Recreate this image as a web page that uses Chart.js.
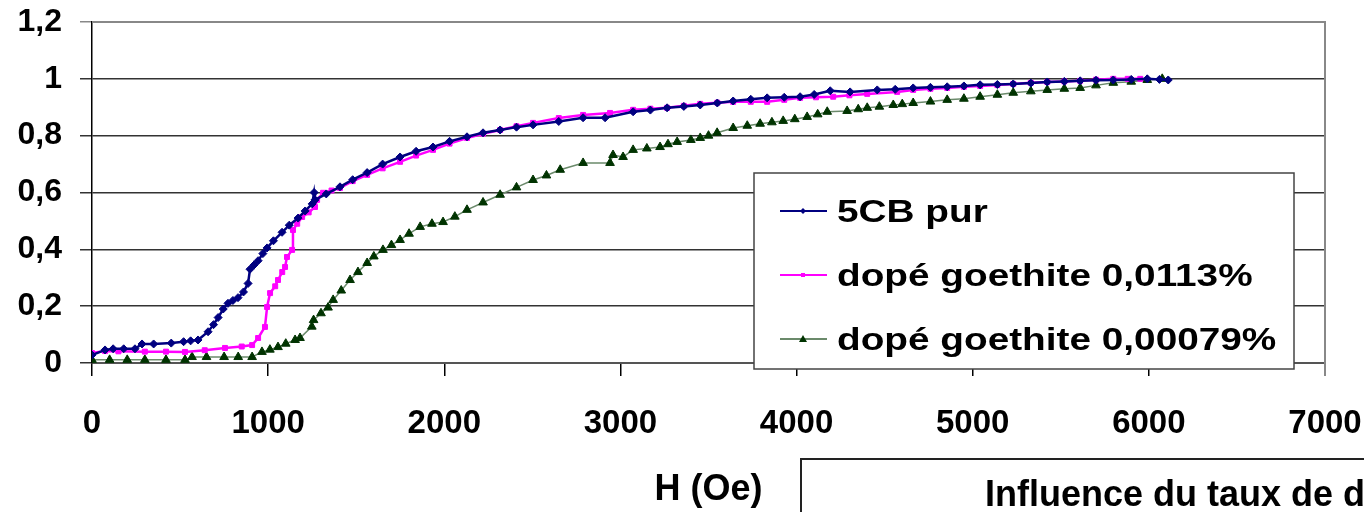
<!DOCTYPE html>
<html>
<head>
<meta charset="utf-8">
<script src="https://cdn.jsdelivr.net/npm/chart.js@4.4.1/dist/chart.umd.min.js"></script>
<style>
  html, body { margin: 0; padding: 0; background: #fff; }
  #wrap { width: 1364px; height: 512px; }
</style>
</head>
<body>
<div id="wrap"><canvas id="myChart" width="1364" height="512"></canvas></div>
<script>
// valeurs : H (Oe) et signal normalisé
let purH = [0, 74, 120, 180, 244, 284, 350, 450, 520, 560, 602, 659, 690, 716, 745, 772, 800, 829, 860, 886, 897, 920, 943, 970, 994, 1030, 1079, 1120, 1170, 1210, 1250, 1261, 1266, 1330, 1408, 1480, 1562, 1650, 1749, 1840, 1936, 2030, 2129, 2220, 2317, 2410, 2504, 2650, 2788, 2913, 3072, 3170, 3265, 3360, 3453, 3550, 3640, 3740, 3833, 3930, 4020, 4100, 4191, 4304, 4458, 4560, 4662, 4760, 4855, 4950, 5042, 5140, 5230, 5330, 5423, 5520, 5610, 5700, 5798, 5900, 5991, 6060, 6110];
let purY = [0.028, 0.046, 0.05, 0.05, 0.05, 0.067, 0.067, 0.07, 0.075, 0.078, 0.081, 0.11, 0.135, 0.16, 0.19, 0.21, 0.22, 0.23, 0.25, 0.28, 0.33, 0.345, 0.36, 0.385, 0.405, 0.43, 0.46, 0.485, 0.51, 0.535, 0.56, 0.60, 0.574, 0.595, 0.62, 0.645, 0.67, 0.70, 0.725, 0.745, 0.76, 0.78, 0.796, 0.81, 0.82, 0.83, 0.838, 0.85, 0.863, 0.863, 0.884, 0.89, 0.898, 0.903, 0.908, 0.915, 0.922, 0.928, 0.933, 0.935, 0.937, 0.945, 0.958, 0.954, 0.961, 0.963, 0.968, 0.97, 0.972, 0.975, 0.979, 0.98, 0.982, 0.985, 0.989, 0.991, 0.993, 0.995, 0.996, 0.998, 1.0, 0.998, 0.996];

let dopeAH = [0, 74, 150, 300, 420, 528, 640, 755, 850, 909, 943, 982, 994, 1011, 1040, 1056, 1080, 1096, 1107, 1136, 1141, 1165, 1193, 1230, 1266, 1278, 1312, 1360, 1408, 1480, 1562, 1650, 1749, 1840, 1936, 2030, 2129, 2220, 2317, 2410, 2504, 2650, 2788, 2941, 3072, 3170, 3265, 3360, 3453, 3550, 3640, 3740, 3833, 3930, 4020, 4110, 4208, 4300, 4401, 4571, 4662, 4760, 4855, 4950, 5042, 5140, 5230, 5330, 5423, 5520, 5610, 5700, 5798, 5880, 5951];
let dopeAY = [0.035, 0.042, 0.041, 0.04, 0.04, 0.039, 0.045, 0.053, 0.058, 0.063, 0.088, 0.127, 0.197, 0.246, 0.27, 0.292, 0.32, 0.338, 0.373, 0.398, 0.468, 0.49, 0.514, 0.53, 0.549, 0.574, 0.599, 0.607, 0.616, 0.64, 0.662, 0.685, 0.708, 0.73, 0.75, 0.772, 0.792, 0.807, 0.82, 0.833, 0.845, 0.862, 0.873, 0.88, 0.891, 0.895, 0.898, 0.905, 0.912, 0.916, 0.919, 0.919, 0.919, 0.926, 0.933, 0.935, 0.937, 0.942, 0.947, 0.954, 0.961, 0.965, 0.968, 0.972, 0.975, 0.978, 0.982, 0.986, 0.989, 0.991, 0.993, 0.997, 1.0, 1.0, 1.0];

let dopeBH = [0, 100, 200, 300, 420, 528, 568, 650, 750, 830, 909, 965, 1010, 1056, 1100, 1153, 1181, 1248, 1258, 1300, 1340, 1369, 1415, 1465, 1510, 1562, 1600, 1652, 1700, 1749, 1800, 1863, 1930, 1993, 2060, 2129, 2220, 2317, 2410, 2504, 2580, 2658, 2788, 2941, 2958, 3015, 3072, 3150, 3225, 3270, 3322, 3400, 3453, 3500, 3549, 3640, 3720, 3793, 3860, 3924, 3990, 4060, 4120, 4174, 4287, 4350, 4401, 4470, 4549, 4600, 4662, 4760, 4855, 4950, 5042, 5140, 5230, 5330, 5423, 5520, 5610, 5700, 5798, 5900, 5991, 6076];
let dopeBY = [0.011, 0.011, 0.011, 0.011, 0.011, 0.011, 0.021, 0.021, 0.021, 0.021, 0.021, 0.039, 0.047, 0.056, 0.068, 0.081, 0.088, 0.128, 0.151, 0.175, 0.195, 0.222, 0.255, 0.292, 0.32, 0.352, 0.375, 0.398, 0.415, 0.433, 0.455, 0.479, 0.49, 0.496, 0.515, 0.539, 0.565, 0.592, 0.618, 0.644, 0.66, 0.68, 0.704, 0.704, 0.732, 0.725, 0.75, 0.755, 0.76, 0.77, 0.778, 0.785, 0.792, 0.8, 0.81, 0.827, 0.835, 0.842, 0.847, 0.852, 0.858, 0.866, 0.875, 0.884, 0.887, 0.893, 0.898, 0.902, 0.908, 0.911, 0.915, 0.92, 0.926, 0.93, 0.937, 0.944, 0.951, 0.956, 0.961, 0.965, 0.968, 0.977, 0.986, 0.99, 0.996, 1.0];

let seriesNames = ['5CB pur', 'dopé goethite 0,0113%', 'dopé goethite 0,00079%'];
let xTicks = [0, 1000, 2000, 3000, 4000, 5000, 6000, 7000];
let yTicks = [0, 0.2, 0.4, 0.6, 0.8, 1, 1.2];

function toPoints(xs, ys) {
    return xs.map((x, i) => ({ x: x, y: ys[i] }));
}

const FONT = "'Liberation Sans', Arial, sans-serif";

// cadre, légende et titre (partiellement visible)
let extras = {
    id: 'extras',
    afterDraw(chart) {
        let ctx = chart.ctx;
        let a = chart.chartArea;
        ctx.save();
        // bord de la zone de tracé
        ctx.strokeStyle = '#888';
        ctx.lineWidth = 2;
        ctx.beginPath();
        ctx.moveTo(a.left, a.top);
        ctx.lineTo(a.right, a.top);
        ctx.lineTo(a.right, a.bottom + 13);
        ctx.stroke();

        // légende
        ctx.fillStyle = '#fff';
        ctx.fillRect(754, 173, 540, 196);
        ctx.strokeStyle = '#444';
        ctx.lineWidth = 1.5;
        ctx.strokeRect(754, 173, 540, 196);
        let rows = [211, 275, 339];
        chart.data.datasets.forEach((ds, i) => {
            let y = rows[i];
            ctx.strokeStyle = ds.borderColor;
            ctx.lineWidth = 2;
            ctx.beginPath();
            ctx.moveTo(780, y);
            ctx.lineTo(827, y);
            ctx.stroke();
            ctx.fillStyle = ds.pointBackgroundColor;
            ctx.beginPath();
            if (i === 0) {
                ctx.moveTo(803, y - 3); ctx.lineTo(806, y); ctx.lineTo(803, y + 3); ctx.lineTo(800, y);
            } else if (i === 1) {
                ctx.rect(801, y - 2, 4, 4);
            } else {
                ctx.moveTo(803, y - 4); ctx.lineTo(807, y + 3); ctx.lineTo(799, y + 3);
            }
            ctx.closePath();
            ctx.fill();
            ctx.save();
            ctx.translate(837, y + 11);
            ctx.scale(1.25, 1);
            ctx.fillStyle = '#000';
            ctx.font = 'bold 31px ' + FONT;
            ctx.textBaseline = 'alphabetic';
            ctx.fillText(ds.label, 0, 0);
            ctx.restore();
        });

        // boîte du titre, coupée par le bord
        ctx.strokeStyle = '#222';
        ctx.lineWidth = 2;
        ctx.beginPath();
        ctx.moveTo(801, 520);
        ctx.lineTo(801, 459);
        ctx.lineTo(1370, 459);
        ctx.stroke();
        ctx.fillStyle = '#000';
        ctx.font = 'bold 36px ' + FONT;
        ctx.textBaseline = 'alphabetic';
        ctx.fillText('Influence du taux de dopage', 985, 506);
        ctx.restore();
    }
};

let ctx = document.getElementById('myChart').getContext('2d');
let chart = new Chart(ctx, {
    type: 'scatter',
    data: {
        datasets: [{
            label: seriesNames[0],
            data: toPoints(purH, purY),
            showLine: true,
            borderColor: '#000080',
            borderWidth: 2.5,
            pointStyle: 'rectRot',
            pointRadius: 4,
            pointBackgroundColor: '#000080',
            pointBorderColor: '#000080',
            pointBorderWidth: 1
        }, {
            label: seriesNames[1],
            data: toPoints(dopeAH, dopeAY),
            showLine: true,
            borderColor: '#ff00ff',
            borderWidth: 2.5,
            pointStyle: 'rect',
            pointRadius: 3.5,
            pointBackgroundColor: '#ff00ff',
            pointBorderColor: '#ff00ff',
            pointBorderWidth: 1
        }, {
            label: seriesNames[2],
            data: toPoints(dopeBH, dopeBY),
            showLine: true,
            borderColor: '#6b8a6b',
            borderWidth: 1.5,
            pointStyle: 'triangle',
            pointRadius: 5,
            pointBackgroundColor: '#003300',
            pointBorderColor: '#003300',
            pointBorderWidth: 1
        }]
    },
    options: {
        responsive: false,
        animation: false,
        layout: { padding: { top: 22, right: 39, left: 0, bottom: 0 } },
        plugins: {
            legend: { display: false },
            tooltip: { enabled: false }
        },
        scales: {
            x: {
                type: 'linear',
                min: 0,
                max: 7000,
                afterBuildTicks: scale => { scale.ticks = xTicks.map(v => ({ value: v })); },
                afterFit: scale => {
                    scale.height = 149;
                    scale.paddingLeft = 0;
                    scale.paddingRight = 0;
                },
                ticks: {
                    color: '#000',
                    font: { family: FONT, size: 33, weight: 'bold' },
                    padding: 28,
                    maxRotation: 0,
                    callback: v => String(v)
                },
                grid: { drawOnChartArea: false, drawTicks: true, tickLength: 13, color: '#000', lineWidth: 1.5 },
                border: { display: true, color: '#555', width: 2 },
                title: {
                    display: true,
                    text: 'H (Oe)',
                    color: '#000',
                    font: { family: FONT, size: 36, weight: 'bold' },
                    padding: { top: 0, bottom: 0 }
                }
            },
            y: {
                type: 'linear',
                min: 0,
                max: 1.2,
                afterBuildTicks: scale => { scale.ticks = yTicks.map(v => ({ value: v })); },
                afterFit: scale => {
                    scale.width = 92;
                    scale.paddingTop = 0;
                    scale.paddingBottom = 0;
                },
                ticks: {
                    color: '#000',
                    font: { family: FONT, size: 32, weight: 'bold' },
                    padding: 18,
                    callback: v => String(Math.round(v * 10) / 10).replace('.', ',')
                },
                grid: {
                    drawTicks: true,
                    tickLength: 12,
                    lineWidth: 1.5,
                    color: c => (c.tick && c.tick.value === 1.2) ? '#888' : '#333'
                },
                border: { display: true, color: '#000', width: 1.5 }
            }
        }
    },
    plugins: [extras]
});
</script>
</body>
</html>
